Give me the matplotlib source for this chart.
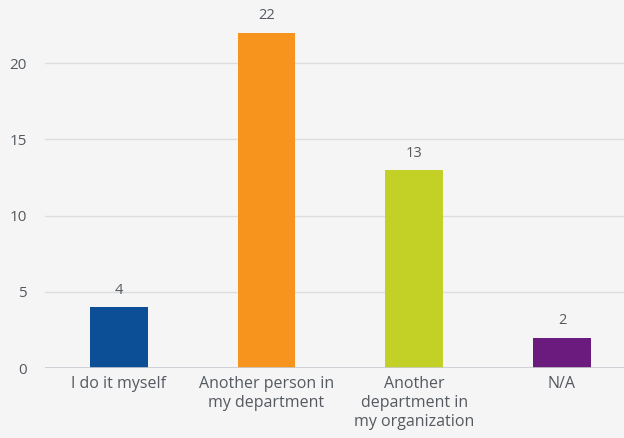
import matplotlib
matplotlib.use("Agg")
import matplotlib.pyplot as plt

categories = ["I do it myself", "Another person in\nmy department", "Another\ndepartment in\nmy organization", "N/A"]
values = [4, 22, 13, 2]
colors = ["#0d4f96", "#f7941d", "#c3d126", "#6a1b7d"]
yticks = [0, 5, 10, 15, 20]

plt.rcParams['font.family'] = ['Open Sans', 'DejaVu Sans']
bg = "#f5f5f5"
txt = "#555a60"

fig = plt.figure(figsize=(6.24, 4.38), dpi=100, facecolor=bg)
ax = fig.add_axes([45/624, 70/438, (624-45)/624, 358/438], facecolor=bg)

x = list(range(len(categories)))
ax.bar(x, values, width=0.39, color=colors, zorder=3)
for xi, v in zip(x, values):
    ax.text(xi, v + 0.6, str(v), ha='center', va='bottom', fontsize=10.5, color=txt)

ax.set_xlim(-0.5, 3.42)
ax.set_ylim(0, 23.48)
ax.set_yticks(yticks)
ax.yaxis.grid(True, color="#dddddd", linewidth=1, zorder=0)
ax.set_axisbelow(True)
for s in ax.spines.values():
    s.set_visible(False)
ax.axhline(0, color="#c8cbd0", linewidth=1.2, zorder=4)
ax.tick_params(axis='both', length=0, labelsize=11, labelcolor=txt)
ax.tick_params(axis='y', pad=13)
ax.set_xticks(x)
ax.set_xticklabels(categories, linespacing=1.25, fontsize=11.5)
ax.tick_params(axis='x', pad=6)

fig.savefig("out.png", dpi=100, facecolor=bg)
